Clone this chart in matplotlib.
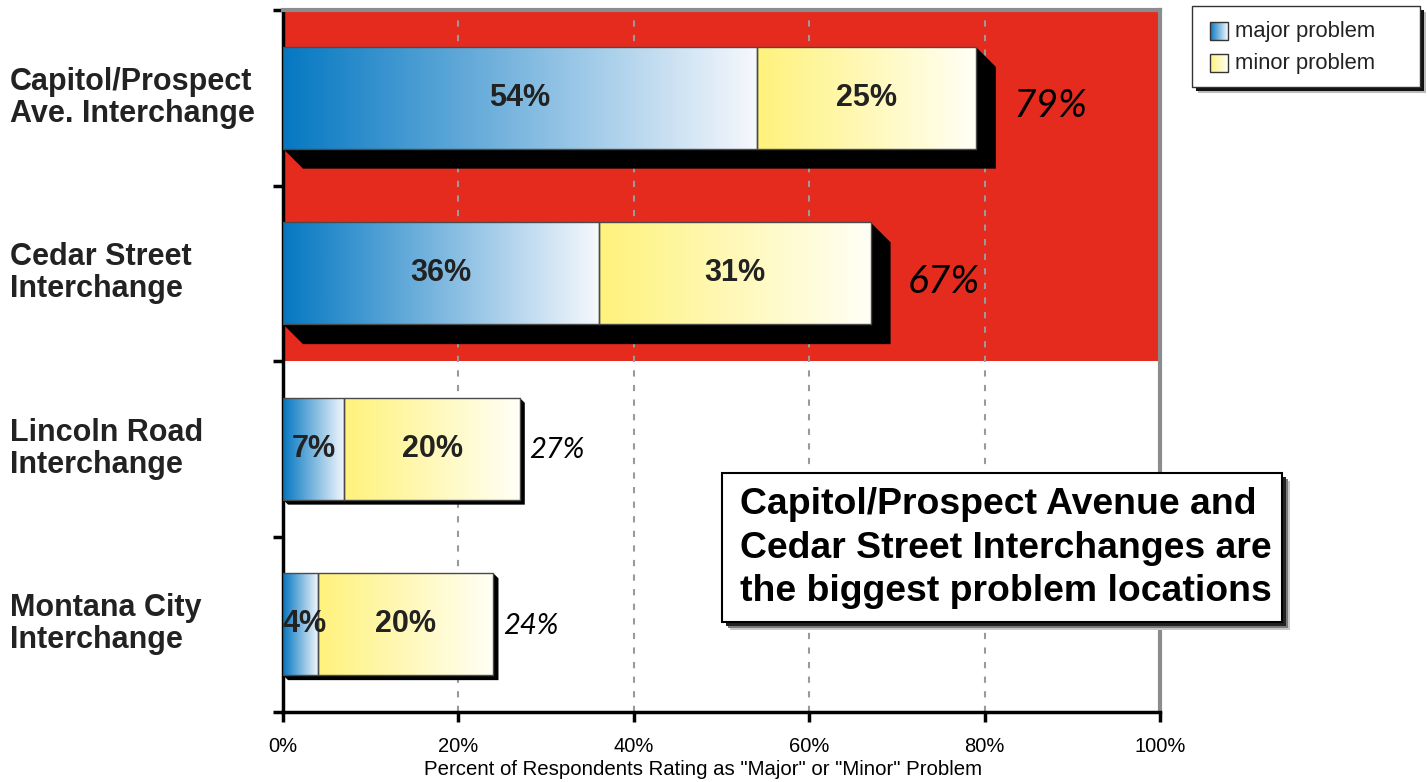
import numpy as np
import matplotlib
matplotlib.use("Agg")
from matplotlib import pyplot as plt
from matplotlib import transforms
from matplotlib.patches import Polygon, Rectangle
from matplotlib.colors import LinearSegmentedColormap

# Survey results: share of respondents rating each interchange as a problem
locations = ["Capitol/Prospect\nAve. Interchange", "Cedar Street\nInterchange",
             "Lincoln Road\nInterchange", "Montana City\nInterchange"]
major = [54, 36, 7, 4]
minor = [25, 31, 20, 20]
highlighted = [True, True, False, False]
xticks = [0, 20, 40, 60, 80, 100]
callout = "Capitol/Prospect Avenue and\nCedar Street Interchanges are\nthe biggest problem locations"

W, H = 1427, 782
RED = "#e52a1e"
major_cmap = LinearSegmentedColormap.from_list("major", ["#0578c2", "#f6f8fd"])
minor_cmap = LinearSegmentedColormap.from_list("minor", ["#fff27c", "#fffff6"])
ramp = np.linspace(0, 1, 256).reshape(1, -1)

plt.rcParams["font.family"] = ["Liberation Sans", "DejaVu Sans"]

fig = plt.figure(figsize=(W / 100, H / 100), dpi=100)
ax = fig.add_axes([283 / W, 70 / H, 877 / W, 702 / H])

# px -> data scale, used for the extruded shadows
px_x = 100 / 877
px_y = 4 / 702
bar_h = 0.58


def gradient_bar(x0, width, yc, cmap):
    y0, y1 = yc - bar_h / 2, yc + bar_h / 2
    ax.imshow(ramp, cmap=cmap, extent=(x0, x0 + width, y1, y0), aspect="auto",
              interpolation="bicubic", zorder=3)
    ax.add_patch(Rectangle((x0, y0), width, bar_h, fill=False,
                           edgecolor="#4a4a4a", lw=1, zorder=4))


def shadow(x1, yc, depth):
    dx, dy = depth * px_x, depth * px_y
    y0, y1 = yc - bar_h / 2, yc + bar_h / 2
    pts = [(0, y1), (dx, y1 + dy), (x1 + dx, y1 + dy), (x1 + dx, y0 + dy), (x1, y0), (x1, y1)]
    ax.add_patch(Polygon(pts, closed=True, facecolor="black", edgecolor="none", zorder=2))


ax.axhspan(0, 2, color=RED, zorder=0, lw=0)

for i, (mj, mn, hl) in enumerate(zip(major, minor, highlighted)):
    yc = i + 0.5
    total = mj + mn
    depth = 20 if hl else 5
    shadow(total, yc, depth)
    gradient_bar(0, mj, yc, major_cmap)
    gradient_bar(mj, mn, yc, minor_cmap)
    ax.text(mj / 2 if mj > 5 else 2.5, yc, f"{mj}%", ha="center", va="center",
            fontsize=22, fontweight="bold", color="#222222", zorder=5)
    ax.text(mj + mn / 2, yc, f"{mn}%", ha="center", va="center",
            fontsize=22, fontweight="bold", color="#222222", zorder=5)
    ax.annotate(f"{total}%", xy=(total, yc),
                xytext=(27 if hl else 7, -6 if hl else -1), textcoords="offset points",
                ha="left", va="center", fontsize=28 if hl else 21,
                family=["Lato", "DejaVu Sans"], fontstyle="italic",
                color="black", zorder=5)

ax.set_xlim(0, 100)
ax.set_ylim(4, 0)

ax.set_axisbelow(True)
ax.xaxis.grid(True, color="#9a9a9a", lw=1.5, linestyle=(0, (3, 4)))
ax.set_xticks(xticks)
ax.set_xticklabels([f"{t}%" for t in xticks], fontsize=14.5)
ax.set_yticks(range(len(locations) + 1))
ax.set_yticklabels([])
ax.tick_params(axis="both", direction="out", length=7, width=2.5, color="black")
ax.tick_params(axis="x", pad=11)
ax.set_xlabel('Percent of Respondents Rating as "Major" or "Minor" Problem',
              fontsize=14.7)
ax.xaxis.set_label_coords(420 / 877, -48 / 702)

for side in ("top", "right"):
    ax.spines[side].set_color("#8c8c8c")
    ax.spines[side].set_linewidth(3)
for side in ("left", "bottom"):
    ax.spines[side].set_color("black")
    ax.spines[side].set_linewidth(2.5)

# category labels, left-aligned at the figure edge
lab_tr = transforms.blended_transform_factory(fig.transFigure, ax.transData)
for i, name in enumerate(locations):
    ax.text(10 / W, i + 0.5, name, transform=lab_tr, ha="left", va="center",
            fontsize=22, fontweight="bold", linespacing=1.08, color="#222222")


def fig_rect(x, y, w, h, **kw):
    # x, y measured from the top-left corner of the figure in pixels
    return Rectangle((x / W, 1 - (y + h) / H), w / W, h / H,
                     transform=fig.transFigure, **kw)


# callout box with drop shadow
for off, col in ((8, "#c8c8c8"), (6, "#7a7a7a"), (4, "#222222")):
    fig.add_artist(fig_rect(722 + off, 473 + off, 560, 149, facecolor=col, edgecolor="none"))
fig.add_artist(fig_rect(722, 473, 560, 149, facecolor="white", edgecolor="black", lw=1.5))
fig.text(740 / W, 1 - 548 / H, callout, ha="left", va="center", fontsize=26.9,
         fontweight="bold", linespacing=1.31, color="black")

# legend with gradient swatches
for off, col in ((6, "#bbbbbb"), (4, "#111111")):
    fig.add_artist(fig_rect(1192 + off, 6 + off, 228, 81, facecolor=col, edgecolor="none"))
fig.add_artist(fig_rect(1192, 6, 228, 81, facecolor="white", edgecolor="#333333", lw=1))
lax = fig.add_axes([1192 / W, 1 - 87 / H, 228 / W, 81 / H])
lax.set_zorder(5)
lax.patch.set_visible(False)
lax.axis("off")
for row, (name, cmap) in enumerate([("major problem", major_cmap), ("minor problem", minor_cmap)]):
    ymid = 25 + row * 32
    lax.imshow(ramp, cmap=cmap, extent=(18, 36, ymid + 9, ymid - 9), aspect="auto",
               interpolation="bicubic")
    lax.add_patch(Rectangle((18, ymid - 9), 18, 18, fill=False, edgecolor="#333333", lw=1))
    lax.text(43, ymid, name, ha="left", va="center", fontsize=15.8, color="#222222")
lax.set_xlim(0, 228)
lax.set_ylim(81, 0)

fig.savefig("out.png", dpi=100)
